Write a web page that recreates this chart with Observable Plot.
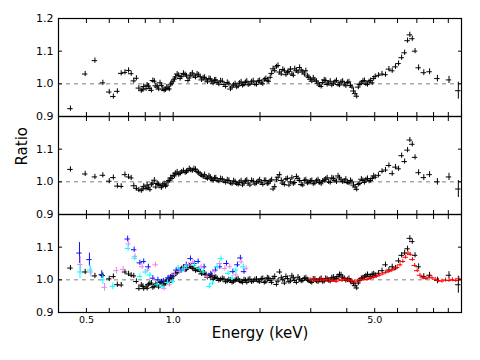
<!DOCTYPE html>
<html><head><meta charset="utf-8">
<script src="https://cdn.jsdelivr.net/npm/d3@7"></script>
<script src="https://cdn.jsdelivr.net/npm/@observablehq/plot@0.6"></script>
<style>body{margin:0;background:#fff}</style>
</head><body><div id="chart"></div>
<script>
// ---------------- data ----------------
const panels = ["a", "b", "c"];

// energy bins (keV) shared by the black data in all three panels
const blackEnergy = [
  0.44, 0.495, 0.535, 0.57, 0.60, 0.62, 0.64, 0.66, 0.68, 0.70,
  0.715, 0.73, 0.745, 0.76, 0.775, 0.79, 0.805, 0.82, 0.84, 0.86,
  0.88, 0.90, 0.92, 0.94, 0.96, 0.98, 1.00,
  1.02, 1.045, 1.07, 1.10, 1.125, 1.15, 1.18, 1.21, 1.24, 1.27,
  1.30, 1.33, 1.36, 1.39, 1.42, 1.46, 1.50, 1.54, 1.58, 1.62,
  1.66, 1.70, 1.74, 1.78, 1.82, 1.87, 1.92, 1.97, 2.02, 2.07,
  2.12, 2.17, 2.22, 2.28, 2.34, 2.40, 2.46, 2.52, 2.58, 2.64,
  2.71, 2.78, 2.85, 2.92, 2.99, 3.06, 3.14, 3.22, 3.30, 3.38,
  3.46, 3.55, 3.64, 3.73, 3.82, 3.92, 4.02, 4.12, 4.22, 4.33,
  4.44, 4.55, 4.66, 4.78, 4.90, 5.02,
  5.15, 5.3, 5.45, 5.6, 5.75, 5.9, 6.05, 6.2, 6.35, 6.5,
  6.62, 6.75, 6.9, 7.1, 7.4, 7.75, 8.25, 9.05, 9.75
];
const ratioTop = [
  0.924, 1.030, 1.071, 1.003, 0.975, 0.961, 0.977, 1.032, 1.035, 1.041,
  1.031, 1.009, 1.017, 0.987, 0.979, 0.992, 0.985, 0.993, 0.980, 1.008,
  0.990, 1.003, 0.984, 0.982, 0.986, 0.997, 1.008,
  1.021, 1.026, 1.022, 1.028, 1.010, 1.027, 1.024, 1.030, 1.022, 1.018,
  1.012, 1.016, 1.008, 1.011, 1.004, 1.009, 0.998, 1.004, 0.984, 0.996,
  0.990, 1.002, 0.995, 1.004, 0.997, 1.006, 0.999, 1.008, 1.003, 1.012,
  1.010, 1.020, 1.046, 1.052, 1.036, 1.044, 1.028, 1.038, 1.030, 1.046,
  1.036, 1.042, 1.030, 1.024, 1.014, 1.018, 1.008, 0.996, 1.004, 1.010,
  1.002, 0.996, 1.006, 0.998, 1.005, 0.999, 1.004, 0.995, 0.978, 0.962,
  0.998, 1.008, 1.000, 1.006, 1.003, 1.022,
  1.026, 1.030, 1.028, 1.045, 1.040, 1.052, 1.062, 1.080, 1.095, 1.132,
  1.150, 1.138, 1.100, 1.049, 1.034, 1.037, 1.016, 1.012, 0.979
];
const ratioMiddle = [
  1.038, 1.024, 1.015, 1.020, 1.002, 1.013, 0.987, 0.986, 1.022, 1.015,
  1.012, 0.988, 0.980, 0.975, 0.973, 0.986, 0.980, 0.982, 0.991, 1.005,
  0.995, 0.988, 0.990, 0.986, 1.000, 1.012, 1.020,
  1.026, 1.022, 1.030, 1.028, 1.034, 1.036, 1.040, 1.032, 1.024, 1.016,
  1.012, 1.018, 1.008, 1.011, 1.004, 1.010, 1.002, 1.006, 0.996, 1.003,
  0.994, 0.998, 0.990, 1.002, 0.996, 1.004, 0.993, 1.001, 0.997, 1.004,
  0.994, 1.002, 0.978, 1.006, 1.022, 0.996, 1.008, 0.990, 1.012, 0.998,
  1.010, 0.992, 1.004, 0.996, 1.002, 0.994, 1.003, 0.998, 1.002, 1.008,
  1.000, 1.012, 1.004, 1.018, 1.006, 1.002, 0.998, 1.004, 0.990, 0.977,
  0.995, 1.004, 1.006, 1.002, 1.010, 1.014,
  1.020, 1.032, 1.036, 1.050, 1.025, 1.045, 1.040, 1.080, 1.062, 1.097,
  1.128, 1.115, 1.075, 1.028, 1.013, 1.022, 1.000, 1.015, 0.978
];
const ratioBottom = [
  1.036, 1.024, 1.012, 1.013, 1.003, 1.010, 0.985, 0.984, 1.024, 1.018,
  1.014, 1.012, 0.995, 0.973, 0.984, 0.973, 0.978, 0.985, 0.990, 0.980,
  0.984, 0.992, 0.988, 0.990, 1.000, 1.008, 1.012,
  1.018, 1.026, 1.034, 1.030, 1.038, 1.040, 1.034, 1.030, 1.026, 1.020,
  1.016, 1.012, 1.014, 1.006, 1.004, 1.000, 1.002, 0.996, 0.998, 0.994,
  1.000, 0.996, 0.992, 0.998, 1.000, 0.994, 1.000, 0.996, 1.002, 0.992,
  1.006, 0.998, 1.004, 0.986, 1.024, 1.000, 1.010, 0.994, 1.012, 0.998,
  1.008, 0.996, 1.004, 1.000, 0.994, 1.002, 0.996, 1.000, 0.994, 1.004,
  0.998, 1.006, 1.002, 1.010, 1.015, 1.004, 1.000, 0.996, 0.988, 0.975,
  0.998, 1.006, 1.012, 1.010, 1.016, 1.014,
  1.020, 1.028, 1.046, 1.030, 1.040, 1.036, 1.058, 1.075, 1.082, 1.095,
  1.127, 1.117, 1.075, 1.040, 1.010, 1.014, 0.998, 1.014, 0.985
];
const blackErr = [
  0.008, 0.008, 0.008, 0.008, 0.008, 0.008, 0.008, 0.008, 0.008, 0.008,
  0.008, 0.008, 0.008, 0.008, 0.008, 0.008, 0.008, 0.008, 0.008, 0.008,
  0.008, 0.008, 0.008, 0.008, 0.008, 0.008, 0.008,
  0.008, 0.008, 0.008, 0.008, 0.008, 0.008, 0.008, 0.008, 0.008, 0.008,
  0.008, 0.008, 0.008, 0.008, 0.008, 0.008, 0.008, 0.008, 0.008, 0.008,
  0.008, 0.008, 0.008, 0.008, 0.008, 0.008, 0.008, 0.008, 0.008, 0.008,
  0.008, 0.008, 0.008, 0.008, 0.008, 0.008, 0.008, 0.008, 0.008, 0.008,
  0.008, 0.008, 0.008, 0.008, 0.008, 0.008, 0.008, 0.008, 0.008, 0.008,
  0.008, 0.008, 0.008, 0.008, 0.008, 0.008, 0.008, 0.008, 0.008, 0.008,
  0.008, 0.008, 0.008, 0.008, 0.008, 0.008,
  0.008, 0.008, 0.008, 0.008, 0.008, 0.008, 0.008, 0.008, 0.008, 0.008,
  0.008, 0.008, 0.008, 0.009, 0.009, 0.009, 0.010, 0.011, 0.026
];

// second (interleaved) set of black bins, 0.78-5 keV, from the other detector
const blackEnergy2 = [
  0.785, 0.812, 0.83, 0.85, 0.87, 0.89, 0.91, 0.93, 0.95, 0.97, 0.99,
  1.01, 1.032, 1.057, 1.085, 1.112, 1.137, 1.165, 1.195, 1.225, 1.255,
  1.285, 1.315, 1.345, 1.375, 1.405, 1.44, 1.48, 1.52, 1.56, 1.60,
  1.64, 1.68, 1.72, 1.76, 1.80, 1.845, 1.895, 1.945, 1.995, 2.045,
  2.095, 2.145, 2.195, 2.25, 2.31, 2.37, 2.43, 2.49, 2.55, 2.61,
  2.675, 2.745, 2.815, 2.885, 2.955, 3.025, 3.10, 3.18, 3.26, 3.34,
  3.42, 3.505, 3.595, 3.685, 3.775, 3.87, 3.97, 4.07, 4.17, 4.275,
  4.385, 4.495, 4.605, 4.72, 4.84, 4.96
];
const ratioTop2 = [
  0.982, 0.996, 0.986, 1.010, 0.994, 0.984, 0.995, 0.980, 0.990, 0.984, 1.002,
  1.014, 1.030, 1.016, 1.032, 1.024, 1.018, 1.033, 1.020, 1.027, 1.012,
  1.020, 1.006, 1.015, 1.002, 1.012, 0.999, 1.008, 0.992, 1.000, 0.990,
  1.000, 0.993, 1.006, 0.998, 1.008, 0.999, 1.009, 0.998, 1.010, 1.000,
  1.016, 1.008, 1.032, 1.040, 1.056, 1.030, 1.040, 1.034, 1.045, 1.026,
  1.040, 1.050, 1.036, 1.040, 1.020, 1.008, 1.012, 1.002, 0.992, 1.012,
  0.998, 1.008, 1.000, 1.010, 0.996, 1.008, 0.994, 1.006, 0.990, 0.970,
  0.990, 1.002, 1.010, 0.998, 1.010, 1.016
];
const ratioMiddle2 = [
  0.978, 0.990, 0.976, 0.996, 0.984, 0.992, 0.982, 0.994, 0.990, 1.004, 1.010,
  1.018, 1.030, 1.026, 1.034, 1.030, 1.040, 1.034, 1.038, 1.028, 1.020,
  1.022, 1.010, 1.014, 1.004, 1.012, 1.002, 1.008, 0.998, 1.004, 0.994,
  1.000, 0.992, 1.003, 0.996, 1.005, 0.990, 1.002, 0.996, 1.006, 0.992,
  1.004, 0.996, 1.006, 0.985, 1.014, 1.004, 0.992, 1.010, 1.000, 0.994,
  1.016, 1.004, 0.990, 1.006, 0.998, 1.004, 0.996, 1.006, 0.994, 1.004,
  1.012, 0.998, 1.010, 1.000, 1.012, 1.000, 1.008, 0.996, 1.000, 0.984,
  0.992, 1.008, 0.998, 1.010, 1.004, 1.018
];
const ratioBottom2 = [
  0.980, 0.974, 0.988, 0.976, 0.986, 0.978, 0.994, 0.984, 0.996, 0.992, 1.004,
  1.014, 1.022, 1.030, 1.038, 1.032, 1.042, 1.036, 1.028, 1.032, 1.018,
  1.020, 1.008, 1.010, 1.002, 1.008, 0.998, 1.004, 0.994, 1.000, 0.992,
  0.998, 1.002, 0.994, 1.000, 0.992, 1.002, 0.996, 1.002, 0.994, 1.004,
  0.994, 1.004, 0.992, 1.010, 0.996, 1.006, 0.990, 1.004, 0.996, 1.006,
  0.992, 1.002, 0.998, 1.006, 0.998, 0.992, 1.002, 0.994, 1.004, 0.996,
  1.002, 0.996, 1.008, 1.004, 1.016, 1.008, 0.998, 1.004, 0.994, 0.982,
  0.990, 1.004, 1.008, 1.016, 1.010, 1.018
];
const blackErr2 = [
  0.008, 0.008, 0.008, 0.008, 0.008, 0.008, 0.008, 0.008, 0.008, 0.008, 0.008,
  0.008, 0.008, 0.008, 0.008, 0.008, 0.008, 0.008, 0.008, 0.008, 0.008,
  0.008, 0.008, 0.008, 0.008, 0.008, 0.008, 0.008, 0.008, 0.008, 0.008,
  0.008, 0.008, 0.008, 0.008, 0.008, 0.008, 0.008, 0.008, 0.008, 0.008,
  0.008, 0.008, 0.008, 0.008, 0.008, 0.008, 0.008, 0.008, 0.008, 0.008,
  0.008, 0.008, 0.008, 0.008, 0.008, 0.008, 0.008, 0.008, 0.008, 0.008,
  0.008, 0.008, 0.008, 0.008, 0.008, 0.008, 0.008, 0.008, 0.008, 0.008,
  0.008, 0.008, 0.008, 0.008, 0.008, 0.008
];

// bottom-panel extra series: [energy keV, ratio, ratio error]
const blueSeries = [
  [0.473,1.082,0.032],[0.512,1.062,0.020],[0.565,1.016,0.012],[0.695,1.125,0.009],
  [0.732,1.092,0.008],[0.766,1.052,0.008],[0.790,1.056,0.008],[0.820,1.040,0.008],
  [0.850,1.005,0.008],[0.885,1.000,0.008],[0.925,0.996,0.008],[0.960,1.006,0.008],
  [0.990,1.012,0.008],[1.025,1.030,0.008],[1.065,1.028,0.008],[1.110,1.046,0.008],
  [1.148,1.065,0.008],[1.185,1.050,0.008],[1.220,1.056,0.008],[1.280,1.040,0.008],
  [1.350,1.018,0.008],[1.400,1.030,0.008],[1.450,1.040,0.008],[1.530,1.050,0.008],
  [1.610,1.025,0.008],[1.670,1.046,0.008],[1.710,1.067,0.008],[1.760,1.025,0.008]
];
const cyanSeries = [
  [0.475,1.024,0.020],[0.515,1.030,0.015],[0.570,1.000,0.014],[0.617,0.980,0.010],
  [0.697,1.096,0.009],[0.735,1.066,0.008],[0.767,1.010,0.008],[0.800,1.024,0.008],
  [0.830,1.015,0.008],[0.880,0.985,0.008],[0.915,0.980,0.008],[0.955,0.992,0.008],
  [0.997,0.995,0.008],[1.040,1.036,0.008],[1.080,1.030,0.008],[1.110,1.040,0.008],
  [1.185,1.044,0.008],[1.230,1.034,0.008],[1.270,1.024,0.008],[1.335,0.980,0.008],
  [1.370,0.990,0.008],[1.420,1.040,0.008],[1.466,1.065,0.008],[1.550,1.020,0.008],
  [1.600,1.005,0.008],[1.650,1.030,0.008],[1.750,1.040,0.008]
];
const violetSeries = [
  [0.476,1.047,0.025],[0.518,1.024,0.015],[0.578,0.977,0.012],[0.635,1.028,0.010],
  [0.670,1.032,0.009],[0.700,1.110,0.009],[0.737,1.072,0.008],[0.780,1.040,0.008],
  [0.815,1.030,0.008],[0.868,1.046,0.008],[0.930,0.974,0.008],[0.970,0.985,0.008],
  [1.010,1.017,0.008],[1.050,1.026,0.008],[1.094,1.034,0.008],[1.130,1.045,0.008],
  [1.170,1.054,0.008],[1.250,1.040,0.008],[1.310,1.010,0.008],[1.390,1.025,0.008],
  [1.450,1.050,0.008],[1.510,1.035,0.008],[1.570,1.040,0.008],[1.650,1.015,0.008],
  [1.720,1.055,0.008],[1.790,1.035,0.008]
];
const redSeries = [
  [3.00,1.000,0.006],[3.08,1.002,0.006],[3.16,0.998,0.006],[3.24,1.003,0.006],
  [3.32,0.999,0.006],[3.40,1.001,0.006],[3.49,0.996,0.006],[3.58,0.998,0.006],
  [3.67,0.995,0.006],[3.76,1.000,0.006],[3.85,0.998,0.006],[3.95,1.002,0.006],
  [4.05,0.999,0.006],[4.15,0.997,0.006],[4.25,0.993,0.006],[4.36,0.996,0.006],
  [4.47,1.000,0.006],[4.58,1.002,0.006],[4.70,1.001,0.006],[4.82,1.004,0.006],
  [4.94,1.007,0.006],[5.06,1.010,0.006],[5.18,1.014,0.006],[5.31,1.018,0.006],
  [5.44,1.022,0.006],[5.57,1.025,0.006],[5.70,1.028,0.006],[5.84,1.032,0.006],
  [5.98,1.038,0.006],[6.12,1.046,0.006],[6.26,1.056,0.006],[6.40,1.069,0.006],
  [6.52,1.082,0.006],[6.64,1.078,0.006],[6.76,1.062,0.006],[6.88,1.044,0.006],
  [7.02,1.028,0.006],[7.18,1.014,0.006],[7.35,1.006,0.006],[7.52,1.004,0.006],
  [7.70,1.008,0.006],[7.90,1.006,0.006],[8.10,1.002,0.006],[8.32,0.998,0.006],
  [8.55,0.996,0.006],[8.80,0.999,0.006],[9.05,0.998,0.006],[9.30,1.000,0.006],
  [9.55,0.998,0.006],[9.80,1.003,0.006]
];
const binHalfWidth = 0.022;        // fractional half-width of each energy bin

const xMajorTicks = [0.5, 1, 5];
const xMinorTicks = [0.6, 0.7, 0.8, 0.9, 2, 3, 4, 6, 7, 8, 9];
const yTicks = [0.9, 1.0, 1.1, 1.2];
const yTickLabels = {a: [0.9, 1.0, 1.1, 1.2], b: [0.9, 1.0, 1.1], c: [0.9, 1.0, 1.1]};
const xLabel = "Energy (keV)";
const yLabel = "Ratio";

// ---------------- build tables ----------------
function rows(panel, E, R, Err) {
  return E.map((e, i) => ({panel, e, r: R[i], lo: R[i] - Err[i], hi: R[i] + Err[i],
    elo: e / (1 + binHalfWidth), ehi: e * (1 + binHalfWidth)}));
}
function rowsT(panel, triples) {
  return rows(panel, triples.map(d => d[0]), triples.map(d => d[1]), triples.map(d => d[2]));
}
const black = [
  ...rows("a", blackEnergy, ratioTop, blackErr),
  ...rows("b", blackEnergy, ratioMiddle, blackErr),
  ...rows("c", blackEnergy, ratioBottom, blackErr),
  ...rows("a", blackEnergy2, ratioTop2, blackErr2),
  ...rows("b", blackEnergy2, ratioMiddle2, blackErr2),
  ...rows("c", blackEnergy2, ratioBottom2, blackErr2)
];
const blue = rowsT("c", blueSeries);
const cyan = rowsT("c", cyanSeries);
const violet = rowsT("c", violetSeries);
const red = rowsT("c", redSeries);

function crosses(data, color) {
  return [
    Plot.ruleY(data, {fy: "panel", y: "r", x1: "elo", x2: "ehi", stroke: color, strokeWidth: 1}),
    Plot.ruleX(data, {fy: "panel", x: "e", y1: "lo", y2: "hi", stroke: color, strokeWidth: 1})
  ];
}

const labelRows = panels.flatMap(p => yTickLabels[p].map(v => ({panel: p, v})));
const fmt = d3.format(".1f");
const noText = () => "";

const chart = Plot.plot({
  width: 480, height: 360,
  marginLeft: 58, marginRight: 19, marginTop: 17, marginBottom: 47,
  style: {fontFamily: "DejaVu Sans, sans-serif", fontSize: "10px", background: "white", color: "black"},
  x: {type: "log", domain: [0.4, 10], label: null},
  y: {domain: [0.9, 1.2], label: null},
  fy: {domain: panels, padding: 0, axis: null, label: null},
  marks: [
    Plot.ruleY([1], {stroke: "#808080", strokeDasharray: "4,4", strokeWidth: 1}),
    ...crosses(black, "black"),
    ...crosses(blue, "#1010ff"),
    ...crosses(violet, "#ee82ee"),
    ...crosses(cyan, "#00ffff"),
    ...crosses(red, "#ff0000"),
    // inward ticks on every panel
    Plot.axisX({anchor: "bottom", ticks: [...xMajorTicks, ...xMinorTicks], tickSize: 4, dy: -4, tickFormat: noText, label: null, facetAnchor: null}),
    Plot.axisX({anchor: "top", ticks: [...xMajorTicks, ...xMinorTicks], tickSize: 4, dy: 4, tickFormat: noText, label: null, facetAnchor: null}),
    Plot.axisY({anchor: "left", ticks: yTicks, tickSize: 4, dx: 4, tickFormat: noText, label: null, facetAnchor: null}),
    Plot.axisY({anchor: "right", ticks: yTicks, tickSize: 4, dx: -4, tickFormat: noText, label: null, facetAnchor: null}),
    // x tick labels on the bottom panel only
    Plot.axisX({anchor: "bottom", ticks: xMajorTicks, tickSize: 0, tickPadding: 4, tickFormat: fmt, fontSize: 9.5, label: null, facetAnchor: "bottom"}),
    // y tick labels per panel
    Plot.text(labelRows, {fy: "panel", y: "v", text: d => fmt(d.v), frameAnchor: "left", textAnchor: "end", dx: -5, fontSize: 11}),
    Plot.frame({stroke: "black", strokeWidth: 1.2}),
    Plot.text([{panel: "c", t: xLabel}], {fy: "panel", text: "t", frameAnchor: "bottom", dy: 25, fontSize: 15}),
    Plot.text([{panel: "b", t: yLabel}], {fy: "panel", text: "t", frameAnchor: "left", dx: -36, rotate: -90, fontSize: 15})
  ]
});
document.getElementById("chart").appendChild(chart);
</script>
</body></html>
